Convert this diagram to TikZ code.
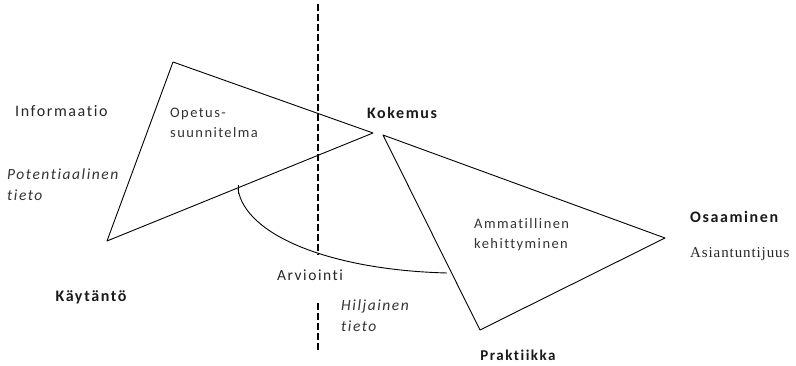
\documentclass[tikz,border=0pt]{standalone}
\usepackage{fontspec}
\setmainfont{Carlito}[LetterSpace=10, RawFeature=-liga]
\newfontfamily\serifalt{Liberation Serif}[LetterSpace=6]
\begin{document}
\begin{tikzpicture}[x=1pt,y=-1pt,
  tri/.style={draw=black, line width=0.9pt, line join=round},
  lbl/.style={inner sep=0pt, text=black!85, font=\fontsize{16}{18}\selectfont},
  blbl/.style={inner sep=0pt, text=black!90, font=\fontsize{16}{18}\selectfont\bfseries},
  ilbl/.style={inner sep=0pt, text=black!80, align=left, font=\fontsize{15.5}{21}\selectfont\itshape},
  slbl/.style={inner sep=0pt, text=black!80, align=left, font=\fontsize{14.5}{20.5}\selectfont}]
\useasboundingbox (0,0) rectangle (796,366);
% triangles
\coordinate (t1a) at (173,62);
\coordinate (t1b) at (373,133);
\coordinate (t1c) at (107,241);
\draw[tri] (t1a) -- (t1b) -- (t1c) -- cycle;
\coordinate (t2a) at (383,135);
\coordinate (t2b) at (665,238);
\coordinate (t2c) at (480,330);
\draw[tri] (t2a) -- (t2b) -- (t2c) -- cycle;
% dashed divider
\coordinate (d1) at (318,4);
\coordinate (d2) at (318,255);
\coordinate (d3) at (318,303);
\coordinate (d4) at (318,353);
\draw[line width=2.6pt, dash pattern=on 7pt off 3pt] (d1) -- (d2);
\draw[line width=2.6pt, dash pattern=on 7pt off 3pt] (d3) -- (d4);
% arc
\coordinate (a1) at (238,189);
\coordinate (a2) at (447,273);
\draw[line width=0.9pt] (238,185) -- (238,194);
\draw[line width=0.9pt] (a1) .. controls (245,235) and (330,270) .. (a2);
% labels
\node[lbl, anchor=base west] (inf) at (15,117) {Informaatio};
\node[slbl, anchor=base west] (ops) at (170,127) {\begin{tabular}{@{}l@{}}Opetus-\\suunnitelma\end{tabular}};
\node[blbl, anchor=base] (kok) at (402,119) {Kokemus};
\node[ilbl, anchor=base west] (pot) at (7,189) {\begin{tabular}{@{}l@{}}Potentiaalinen\\tieto\end{tabular}};
\node[blbl, anchor=base] (kay) at (91,302) {Käytäntö};
\node[lbl, font=\fontsize{15.5}{18}\selectfont, anchor=base] (arv) at (310,281) {Arviointi};
\node[ilbl, anchor=base west] (hil) at (341,320) {\begin{tabular}{@{}l@{}}Hiljainen\\tieto\end{tabular}};
\node[slbl, anchor=base west] (amm) at (474,238) {\begin{tabular}{@{}l@{}}Ammatillinen\\kehittyminen\end{tabular}};
\node[blbl, anchor=base west] (osa) at (690,223) {Osaaminen};
\node[inner sep=0pt, anchor=base west, text=black!85, font=\serifalt\fontsize{15}{16}\selectfont] (asi) at (690,258) {Asiantuntijuus};
\node[blbl, font=\fontsize{15}{18}\selectfont\bfseries, anchor=base] (pra) at (518,360) {Praktiikka};
\end{tikzpicture}
\end{document}
